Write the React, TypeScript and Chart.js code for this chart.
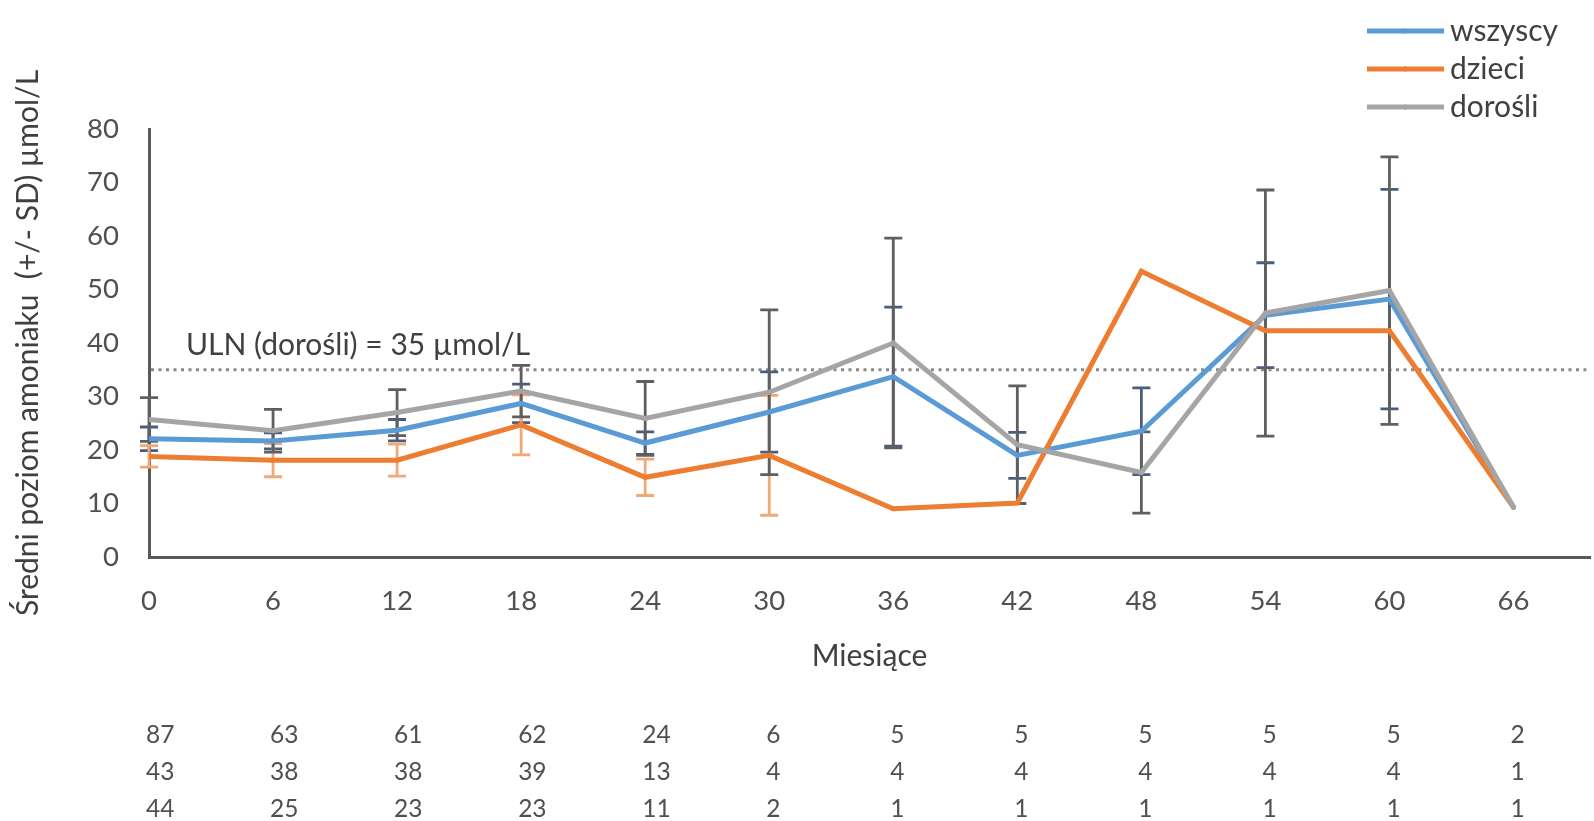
import React, { useEffect, useRef } from "react";
import { Chart, registerables } from "chart.js";

Chart.register(...registerables);

// ---- data ----
const months = [0, 6, 12, 18, 24, 30, 36, 42, 48, 54, 60, 66];
const wszyscy = [22.1, 21.7, 23.7, 28.7, 21.3, 27.1, 33.7, 19.0, 23.5, 45.2, 48.2, 9.3];
const wszyscySD = [2.2, 1.5, 2.0, 3.6, 2.1, 7.5, 13.0, 4.3, 8.1, 9.8, 20.5, 0];
const dzieci = [18.8, 18.1, 18.1, 24.7, 14.9, 19.0, 9.0, 10.1, 53.4, 42.3, 42.3, 9.3];
const dzieciSD = [2.0, 3.1, 3.0, 5.6, 3.4, 11.2, 0, 0, 0, 0, 0, 0];
const dorosli = [25.7, 23.6, 27.0, 31.0, 25.9, 30.8, 40.0, 21.0, 15.8, 45.6, 49.8, 9.3];
const dorosliSD = [4.1, 4.0, 4.3, 4.8, 6.9, 15.4, 19.6, 11.0, 7.6, 23.0, 25.0, 0];
const countsRow1 = [87, 63, 61, 62, 24, 6, 5, 5, 5, 5, 5, 2];
const countsRow2 = [43, 38, 38, 39, 13, 4, 4, 4, 4, 4, 4, 1];
const countsRow3 = [44, 25, 23, 23, 11, 2, 1, 1, 1, 1, 1, 1];
const ULN = 35;
const ulnLabel = "ULN (dorośli) = 35 µmol/L";
const yTitle = "Średni poziom amoniaku  (+/- SD) µmol/L";
const xTitle = "Miesiące";

const BLUE = "#5B9BD5";
const ORANGE = "#ED7D31";
const GRAY = "#A5A5A5";
const TEXT = "#505050";
const FONT = "Lato";

const toPts = (vals: number[]) => months.map((m, i) => ({ x: m, y: vals[i] }));

const errorSets = [
  { vals: wszyscy, sd: wszyscySD, color: "#4A5D7E" },
  { vals: dzieci, sd: dzieciSD, color: "#F2A876" },
  { vals: dorosli, sd: dorosliSD, color: "#5F5F5F" },
];

const legendItems = [
  { label: "wszyscy", color: BLUE },
  { label: "dzieci", color: ORANGE },
  { label: "dorośli", color: GRAY },
];

const extras = {
  id: "extras",
  beforeDatasetsDraw(chart: any) {
    const { ctx, chartArea, scales } = chart;
    const x = scales.x;
    const y = scales.y;
    ctx.save();
    // ULN dotted line
    const yy = y.getPixelForValue(ULN);
    ctx.strokeStyle = "#8A8A8A";
    ctx.lineWidth = 3;
    ctx.setLineDash([3, 4.5]);
    ctx.beginPath();
    ctx.moveTo(chartArea.left + 2, yy);
    ctx.lineTo(chartArea.right, yy);
    ctx.stroke();
    ctx.setLineDash([]);
    ctx.font = `30px ${FONT}`;
    ctx.fillStyle = "#404040";
    ctx.textAlign = "left";
    ctx.textBaseline = "middle";
    ctx.fillText(ulnLabel, x.getPixelForValue(0) + 37, y.getPixelForValue(39.5));
    // error bars
    errorSets.forEach((s) => {
      ctx.strokeStyle = s.color;
      ctx.lineWidth = 2.8;
      months.forEach((m, i) => {
        const sd = s.sd[i];
        if (!sd) return;
        const px = x.getPixelForValue(m);
        const top = y.getPixelForValue(s.vals[i] + sd);
        const bot = y.getPixelForValue(s.vals[i] - sd);
        ctx.beginPath();
        ctx.moveTo(px, top);
        ctx.lineTo(px, bot);
        ctx.moveTo(px - 9, top);
        ctx.lineTo(px + 9, top);
        ctx.moveTo(px - 9, bot);
        ctx.lineTo(px + 9, bot);
        ctx.stroke();
      });
    });
    ctx.restore();
  },
  afterDraw(chart: any) {
    const { ctx, scales } = chart;
    const x = scales.x;
    ctx.save();
    // counts table
    ctx.font = `24.5px ${FONT}`;
    ctx.fillStyle = TEXT;
    ctx.textAlign = "left";
    ctx.textBaseline = "middle";
    [countsRow1, countsRow2, countsRow3].forEach((row, r) => {
      row.forEach((v, i) => {
        ctx.fillText(String(v), x.getPixelForValue(months[i]) - 3, 735 + r * 37);
      });
    });
    // legend
    ctx.font = `30px ${FONT}`;
    legendItems.forEach((it, i) => {
      const ly = 31 + i * 38;
      ctx.strokeStyle = it.color;
      ctx.lineWidth = 5;
      ctx.beginPath();
      ctx.moveTo(1367, ly);
      ctx.lineTo(1444, ly);
      ctx.stroke();
      ctx.fillStyle = it.color;
      ctx.beginPath();
      ctx.arc(1405, ly, 2.5, 0, Math.PI * 2);
      ctx.fill();
      ctx.fillStyle = "#404040";
      ctx.fillText(it.label, 1450, ly);
    });
    ctx.restore();
  },
};

export default function App() {
  const ref = useRef<HTMLCanvasElement | null>(null);
  useEffect(() => {
    document.body.style.margin = "0";
    const canvas = ref.current;
    if (!canvas) return;
    const ds = (label: string, vals: number[], color: string, order: number) => ({
      label,
      data: toPts(vals),
      borderColor: color,
      backgroundColor: color,
      borderWidth: 5,
      pointRadius: 2.5,
      pointBorderWidth: 0,
      tension: 0,
      order,
    });
    const chart = new Chart(canvas, {
      type: "line",
      data: {
        datasets: [
          ds("wszyscy", wszyscy, BLUE, 2),
          ds("dzieci", dzieci, ORANGE, 1),
          ds("dorośli", dorosli, GRAY, 0),
        ],
      },
      options: {
        responsive: false,
        animation: false,
        layout: { padding: { top: 129, left: 0, right: 0, bottom: 0 } },
        plugins: { legend: { display: false }, tooltip: { enabled: false } },
        scales: {
          x: {
            type: "linear",
            min: 0,
            max: 69.7,
            afterBuildTicks: (s: any) => {
              s.ticks = months.map((v) => ({ value: v }));
            },
            afterFit: (s: any) => {
              s.height = 264;
            },
            ticks: {
              font: { family: FONT, size: 27.5 },
              color: TEXT,
              padding: 28,
              maxRotation: 0,
              autoSkip: false,
            },
            grid: { display: false, drawTicks: false },
            border: { display: true, color: "#595959", width: 3 },
            title: {
              display: true,
              text: xTitle,
              font: { family: FONT, size: 30 },
              color: "#404040",
              padding: { top: 0, bottom: 147 },
            },
          },
          y: {
            min: 0,
            max: 80,
            afterFit: (s: any) => {
              s.width = 149;
            },
            ticks: {
              stepSize: 10,
              font: { family: FONT, size: 27.5 },
              color: TEXT,
              padding: 30,
            },
            grid: { display: false, drawTicks: false },
            border: { display: true, color: "#595959", width: 3 },
            title: {
              display: true,
              text: yTitle,
              font: { family: FONT, size: 30 },
              color: "#404040",
              padding: { top: 10, bottom: 0 },
            },
          },
        },
      },
      plugins: [extras],
    });
    return () => chart.destroy();
  }, []);
  return <canvas ref={ref} width={1594} height={821} style={{ display: "block" }} />;
}
